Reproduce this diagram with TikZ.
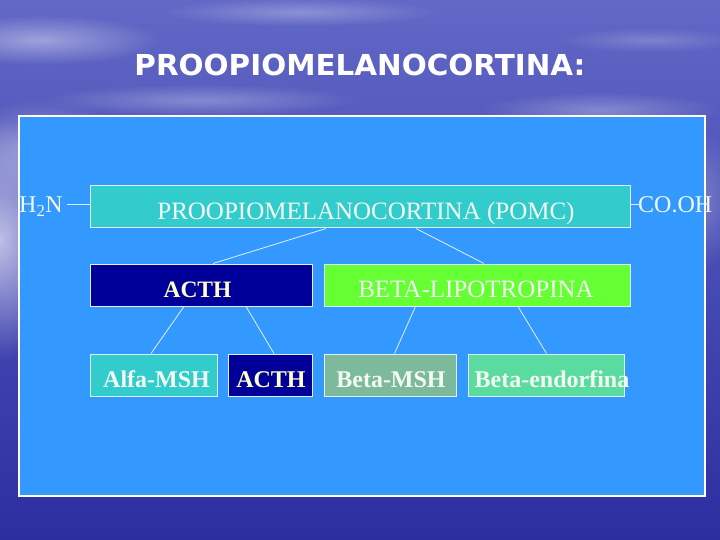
\documentclass[tikz,border=0pt]{standalone}
\usepackage{fontspec}
\setmainfont{Liberation Serif}
\newfontfamily\titlefont{DejaVu Sans}
\usetikzlibrary{fadings,calc}
\definecolor{bgtop}{RGB}{98,104,198}
\definecolor{bgmid}{RGB}{78,86,188}
\definecolor{bgbot}{RGB}{44,46,160}
\definecolor{panelblue}{RGB}{51,153,255}
\definecolor{tealbox}{RGB}{51,204,204}
\definecolor{navybox}{RGB}{0,0,153}
\definecolor{limebox}{RGB}{102,255,51}
\definecolor{sagebox}{RGB}{125,185,155}
\definecolor{mintbox}{RGB}{90,220,160}
\definecolor{paletext}{RGB}{242,250,242}
\definecolor{yeltext}{RGB}{255,255,204}
\definecolor{edgecol}{RGB}{225,240,245}
\tikzfading[name=fuzz, inner color=transparent!20, outer color=transparent!100]
\begin{document}
\begin{tikzpicture}[x=1pt,y=-1pt,
  protbox/.style={draw=edgecol, line width=1pt, inner sep=0pt},
  boxtext/.style={anchor=base, inner sep=0pt, text=paletext, font=\fontsize{24}{28}\selectfont\bfseries},
  plaintext/.style={anchor=base, inner sep=0pt, text=paletext, font=\fontsize{25}{29}\selectfont},
  link/.style={draw=edgecol, line width=0.8pt}]
\useasboundingbox (0,0) rectangle (720,540);
% background
\shade[top color=bgtop, middle color=bgmid, bottom color=bgbot] (0,0) rectangle (720,540);
\fill[white, path fading=fuzz, opacity=0.8] (0,240) ellipse (70 and 120);
\fill[white, path fading=fuzz, opacity=0.5] (40,40) ellipse (120 and 25);
\fill[white, path fading=fuzz, opacity=0.45] (40,150) ellipse (90 and 50);
\fill[white, path fading=fuzz, opacity=0.35] (300,12) ellipse (140 and 14);
\fill[white, path fading=fuzz, opacity=0.35] (200,100) ellipse (160 and 16);
\fill[white, path fading=fuzz, opacity=0.35] (600,110) ellipse (120 and 18);
\fill[white, path fading=fuzz, opacity=0.3] (700,200) ellipse (40 and 70);
\fill[white, path fading=fuzz, opacity=0.25] (650,40) ellipse (90 and 12);
% title
\node[anchor=base, inner sep=0pt, text=white, font=\titlefont\fontsize{27.5}{32}\selectfont\bfseries] (title) at (360,76) {\scalebox{1.07}[1.05]{PROOPIOMELANOCORTINA:}};
% panel
\node[draw=white, line width=1.5pt, fill=panelblue, minimum width=686pt, minimum height=380pt, inner sep=0pt] (panel) at (362,306) {};
% boxes
\node[protbox, fill=tealbox, minimum width=540pt, minimum height=42pt] (pomc) at (360,207) {};
\node[protbox, fill=navybox, minimum width=222pt, minimum height=42pt] (acth) at (201,285) {};
\node[protbox, fill=limebox, minimum width=306pt, minimum height=42pt] (beta) at (477,285) {};
\node[protbox, fill=tealbox, minimum width=127pt, minimum height=42pt] (alfa) at (153.5,375) {};
\node[protbox, fill=navybox, minimum width=84pt, minimum height=42pt] (acthb) at (270,375) {};
\node[protbox, fill=sagebox, minimum width=132pt, minimum height=42pt] (bmsh) at (390,375) {};
\node[protbox, fill=mintbox, minimum width=156pt, minimum height=42pt] (bend) at (546,375) {};
% texts
\node[plaintext] (pomct) at (366,219) {PROOPIOMELANOCORTINA (POMC)};
\node[boxtext, text=yeltext, font=\fontsize{23.5}{28}\selectfont\bfseries] (actht) at (197.5,297) {ACTH};
\node[plaintext] (betat) at (476,297) {BETA-LIPOTROPINA};
\node[boxtext] (alfat) at (156.5,387) {Alfa-MSH};
\node[boxtext, text=yeltext] (acthbt) at (271,387) {ACTH};
\node[boxtext] (bmsht) at (391,387) {Beta-MSH};
\node[boxtext] (bendt) at (552,387) {Beta-endorfina};
% termini
\node[anchor=base west, inner sep=0pt, text=paletext, font=\fontsize{24}{28}\selectfont] (h2n) at (19,213) {H\textsubscript{2}N};
\node[anchor=base west, inner sep=0pt, text=paletext, font=\fontsize{24}{28}\selectfont] (cooh) at (638,213) {CO.OH};
\coordinate (h2nend) at (66.5,204);
\coordinate (coohend) at (640,204);
\draw[link] (h2nend) -- ([yshift=3pt]pomc.west);
\draw[link] ([yshift=3pt]pomc.east) -- (coohend);
% connectors
\draw[link] ([xshift=-34pt]pomc.south) -- ([xshift=12pt]acth.north);
\draw[link] ([xshift=56pt]pomc.south) -- ([xshift=7pt]beta.north);
\draw[link] ([xshift=-17pt]acth.south) -- ([xshift=-2.5pt]alfa.north);
\draw[link] ([xshift=45pt]acth.south) -- ([xshift=4pt]acthb.north);
\draw[link] ([xshift=-61.5pt]beta.south) -- ([xshift=4.5pt]bmsh.north);
\draw[link] ([xshift=41pt]beta.south) -- ([xshift=0.5pt]bend.north);
\end{tikzpicture}
\end{document}
